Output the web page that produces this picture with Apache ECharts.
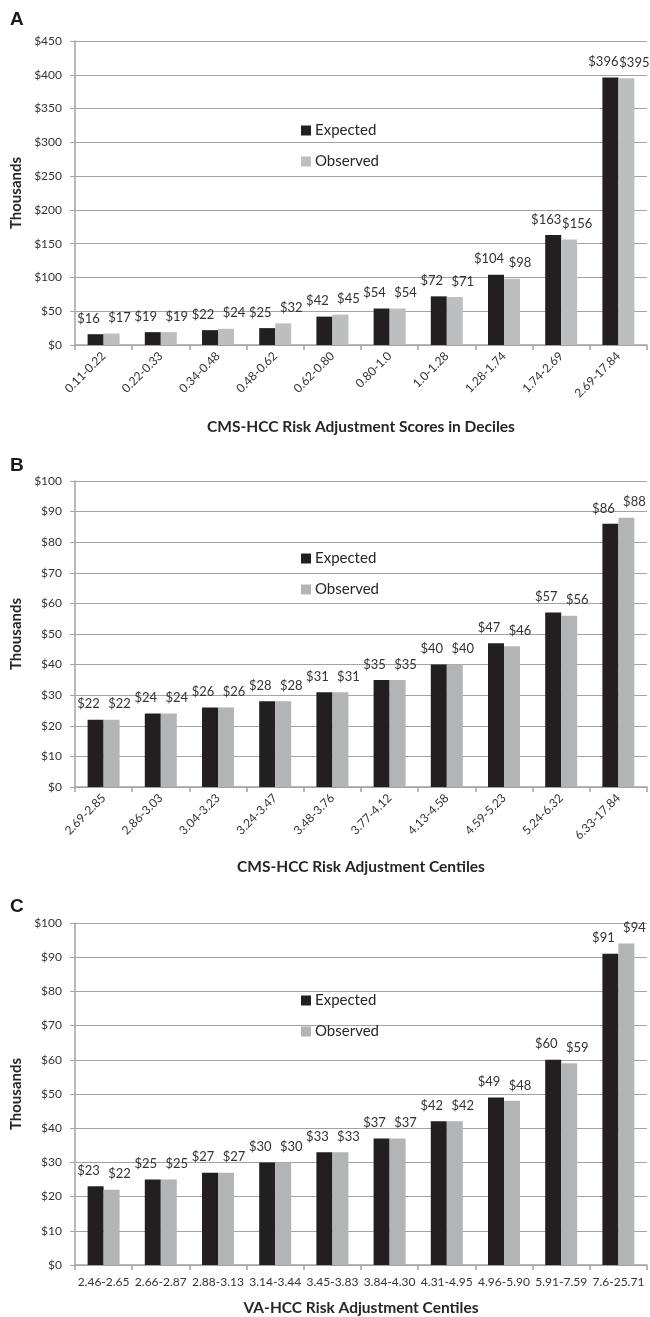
<!DOCTYPE html>
<html>
<head>
<meta charset="utf-8">
<title>Expected vs Observed</title>
<script src="https://cdn.jsdelivr.net/npm/echarts@6/dist/echarts.min.js"></script>
<style>
    html, body { margin: 0; padding: 0; background: #fff; }
    #main { width: 650px; height: 1317px; }
</style>
</head>
<body>
<div id="main"></div>
<script>
    // panel A - CMS-HCC deciles
    var catsA = ['0.11-0.22', '0.22-0.33', '0.34-0.48', '0.48-0.62', '0.62-0.80', '0.80-1.0', '1.0-1.28', '1.28-1.74', '1.74-2.69', '2.69-17.84'];
    var expA = [16, 19, 22, 25, 42, 54, 72, 104, 163, 396];
    var obsA = [17, 19, 24, 32, 45, 54, 71, 98, 156, 395];
    // panel B - CMS-HCC centiles
    var catsB = ['2.69-2.85', '2.86-3.03', '3.04-3.23', '3.24-3.47', '3.48-3.76', '3.77-4.12', '4.13-4.58', '4.59-5.23', '5.24-6.32', '6.33-17.84'];
    var expB = [22, 24, 26, 28, 31, 35, 40, 47, 57, 86];
    var obsB = [22, 24, 26, 28, 31, 35, 40, 46, 56, 88];
    // panel C - VA-HCC centiles
    var catsC = ['2.46-2.65', '2.66-2.87', '2.88-3.13', '3.14-3.44', '3.45-3.83', '3.84-4.30', '4.31-4.95', '4.96-5.90', '5.91-7.59', '7.6-25.71'];
    var expC = [23, 25, 27, 30, 33, 37, 42, 49, 60, 91];
    var obsC = [22, 25, 27, 30, 33, 37, 42, 48, 59, 94];

    var panelLetters = ['A', 'B', 'C'];
    var xNames = ['CMS-HCC Risk Adjustment Scores in Deciles', 'CMS-HCC Risk Adjustment Centiles', 'VA-HCC Risk Adjustment Centiles'];
    var yMax = [450, 100, 100];
    var yStep = [50, 10, 10];

    var FONT = 'Lato';
    var black = '#231f20';
    var grays = ['#bdbec0', '#b3b4b6', '#b3b4b6'];
    var lineGray = '#a3a3a3';

    var grids = [
        {left: 75, right: 3, top: 41, height: 304},
        {left: 75, right: 3, top: 481, height: 306},
        {left: 75, right: 3, top: 923, height: 344}
    ];
    var titleTops = [10, 456, 897];
    var legendTops = [123, 551, 993];
    var nameGaps = [74, 72, 35];
    var cats = [catsA, catsB, catsC];
    var exps = [expA, expB, expC];
    var obss = [obsA, obsB, obsC];

    var myChart = echarts.init(document.getElementById('main'), null, {renderer: 'canvas'});

    var option = {
        animation: false,
        backgroundColor: '#fff',
        textStyle: {fontFamily: FONT},
        title: [],
        legend: [],
        grid: grids,
        xAxis: [],
        yAxis: [],
        series: []
    };

    for (var i = 0; i < 3; i++) {
        option.title.push({
            text: panelLetters[i],
            left: 10,
            top: titleTops[i],
            padding: 0,
            textStyle: {fontFamily: 'Liberation Sans', fontSize: 19, fontWeight: 'bold', color: '#1a1a1a'}
        });
        option.legend.push({
            orient: 'vertical',
            left: 301,
            top: legendTops[i],
            padding: 0,
            itemWidth: 10,
            itemHeight: 10,
            itemGap: 16,
            icon: 'rect',
            selectedMode: false,
            textStyle: {fontFamily: FONT, fontSize: 15, color: '#262626', padding: [0, 0, 0, -1]},
            data: [
                {name: 'Expected', itemStyle: {color: black}},
                {name: 'Observed', itemStyle: {color: grays[i]}}
            ]
        });
        option.xAxis.push({
            type: 'category',
            gridIndex: i,
            data: cats[i],
            boundaryGap: true,
            name: xNames[i],
            nameLocation: 'middle',
            nameGap: nameGaps[i],
            nameTextStyle: {fontFamily: FONT, fontSize: 15.5, fontWeight: 'bold', color: '#262626'},
            axisLine: {lineStyle: {color: lineGray, width: 1.5}},
            axisTick: {show: true, length: 5, alignWithLabel: false, lineStyle: {color: lineGray, width: 1.5}},
            axisLabel: {
                interval: 0,
                rotate: i < 2 ? 45 : 0,
                margin: i < 2 ? 9 : 11,
                fontFamily: FONT,
                fontSize: 12,
                color: '#333'
            },
            splitLine: {show: false}
        });
        option.yAxis.push({
            type: 'value',
            gridIndex: i,
            min: 0,
            max: yMax[i],
            interval: yStep[i],
            name: 'Thousands',
            nameLocation: 'middle',
            nameGap: 49,
            nameTextStyle: {fontFamily: FONT, fontSize: 15, fontWeight: 'bold', color: '#262626'},
            axisLine: {show: true, lineStyle: {color: lineGray, width: 1.5}},
            axisTick: {show: true, length: 5, lineStyle: {color: lineGray, width: 1}},
            axisLabel: {
                margin: 13,
                fontFamily: FONT,
                fontSize: 12,
                color: '#333',
                formatter: '${value}'
            },
            splitLine: {show: true, lineStyle: {color: lineGray, width: 1}}
        });
        option.series.push({
            name: 'Expected',
            type: 'bar',
            xAxisIndex: i,
            yAxisIndex: i,
            data: exps[i],
            barWidth: 16,
            barGap: '0%',
            itemStyle: {color: black},
            label: {
                show: true,
                position: 'top',
                distance: 9,
                offset: [-7, 0],
                formatter: '${c}',
                fontFamily: FONT,
                fontSize: 13,
                color: '#333'
            }
        });
        option.series.push({
            name: 'Observed',
            type: 'bar',
            xAxisIndex: i,
            yAxisIndex: i,
            data: obss[i],
            barWidth: 16,
            barGap: '0%',
            itemStyle: {color: grays[i]},
            label: {
                show: true,
                position: 'top',
                distance: 9,
                offset: [8, 0],
                formatter: '${c}',
                fontFamily: FONT,
                fontSize: 13,
                color: '#333'
            }
        });
    }

    myChart.setOption(option);
</script>
</body>
</html>
